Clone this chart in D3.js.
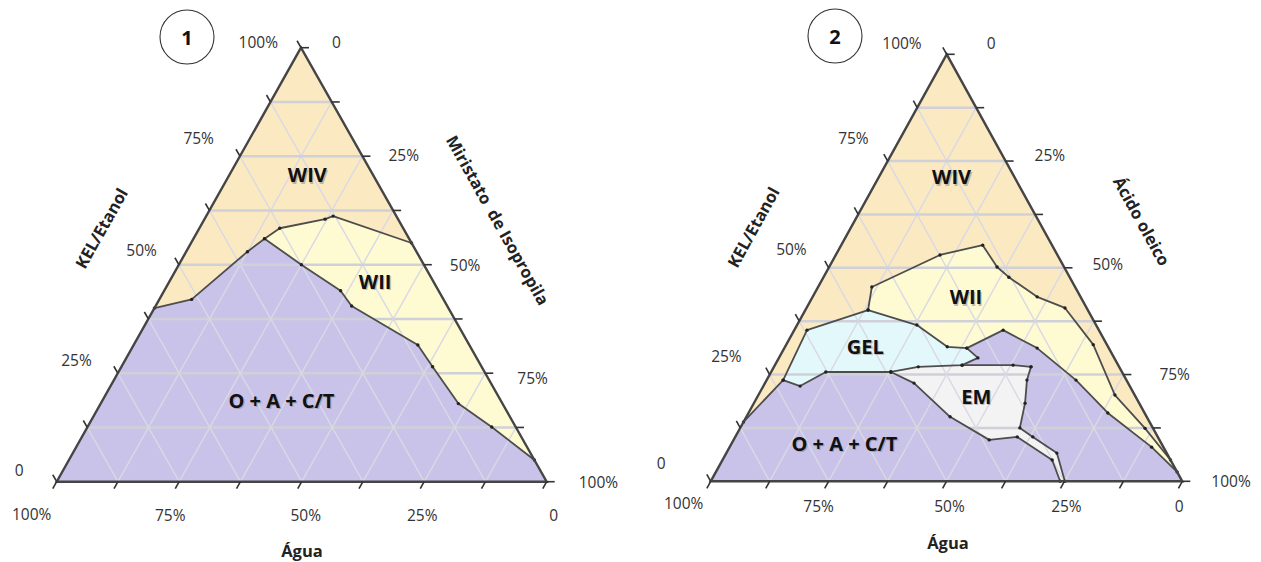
<!DOCTYPE html>
<html>
<head>
<meta charset="utf-8">
<script src="https://cdn.jsdelivr.net/npm/d3@7"></script>
<style>
  html, body { margin: 0; padding: 0; background: #fff; }
  svg { display: block; font-family: "Open Sans", "DejaVu Sans", sans-serif; }
  .tick-label { font-size: 15.5px; fill: #333; }
  .axis-title { font-size: 16.5px; font-weight: bold; fill: #222; white-space: pre; }
  .region-label { font-size: 20px; font-weight: bold; fill: #111; }
  .region-shadow { font-size: 20px; font-weight: bold; fill: #777; opacity: 0.45; }
  .badge { font-size: 20px; font-weight: bold; fill: #111; }
</style>
</head>
<body>
<svg id="chart" width="1261" height="562"></svg>
<script>
// Composition grid and axis ticks (percent)
const gridSteps = [12.5, 25, 37.5, 50, 62.5, 75, 87.5];
const tickValues = [0, 12.5, 25, 37.5, 50, 62.5, 75, 87.5, 100];
const labelValues = [0, 25, 50, 75, 100];
const tickText = ["0", "25%", "50%", "75%", "100%"];

// Axis titles: [left (KEL/Etanol), right (oil), bottom (water)]
const axisNames1 = ["KEL/Etanol", "Miristato  de Isopropila", "Água"];
const axisNames2 = ["KEL/Etanol", "Ácido oleico", "Água"];

// Phase boundaries, points as [KEL/Etanol %, oil %]; water = 100 - both
// Diagram 1 (isopropyl myristate)
const lowerCurve1 = [[40, 0], [42, 6.6], [53, 12.5], [56, 14.5], [50, 25], [44, 36], [40.5, 40],
                     [31.5, 58], [26.5, 63.5], [18, 73], [12.6, 82.5], [5, 95]];
const upperCurve1 = [[56, 14.5], [58.4, 16.4], [60.5, 24.6], [61.2, 25.9], [55, 45]];
const regionNames1 = ["WIV", "WII", "O + A + C/T"];
const regionSpots1 = [[70.7, 15.9], [46.1, 42], [18.8, 36.5]];

// Diagram 2 (oleic acid)
const purpleLeftTop2 = [[13.9, 0], [23.7, 3.5], [22.3, 7.8], [25.6, 11.6], [25.6, 25.4]];
const gelOutline2 = [[23.7, 3.5], [35.4, 2.7], [40.1, 13.3], [36.6, 25.4], [31.5, 34.4], [31.2, 38.7],
                     [28.9, 42.2], [27.2, 39.7], [26.8, 30.6], [25.6, 25.4]];
const emTop2 = [[27.2, 39.7], [27.2, 50.5], [26.8, 54.5]];
const emRight2 = [[26.8, 54.5], [23.7, 55.2], [18.3, 57.5], [12.5, 59.3], [10.4, 63.1], [6.6, 70.1], [0, 75.1]];
const emLeft2 = [[25.6, 25.4], [23.0, 31.6], [15.1, 43.2], [9.7, 54.2], [10.4, 59.8], [5, 69.9], [0, 74.1]];
const purpleRight2 = [[31.2, 38.7], [35.4, 44.3], [31.2, 53.6], [23.7, 65.6], [16, 76.2], [8, 89.5], [2.2, 97.8]];
const wiiOuter2 = [[40.1, 13.3], [45.5, 11.4], [53, 22.1], [55.3, 30], [50.2, 35.6], [47.8, 39.3], [43.2, 47.6],
                   [40.6, 54.8], [32, 65.1], [20.2, 75.6], [12.4, 85.9], [5, 95]];
const regionNames2 = ["WIV", "WII", "GEL", "EM", "O + A + C/T"];
const regionSpots2 = [[71.3, 15.4], [43.2, 32.5], [31.5, 17], [19.8, 46.4], [8.9, 23.9]];

const colors = { wiv: "#fbe9c2", wii: "#fefbd3", oac: "#c9c3e9", gel: "#e3f8fb", em: "#f3f3f3" };

const svg = d3.select("#chart");

function drawDiagram(cfg) {
  const { bl, br, top } = cfg.frame;
  // scales: oil runs along the base, KEL lifts toward the apex
  const xOil = d3.scaleLinear().domain([0, 100]).range([bl[0], br[0]]);
  const xKel = d3.scaleLinear().domain([0, 100]).range([0, top[0] - bl[0]]);
  const yKel = d3.scaleLinear().domain([0, 100]).range([bl[1], top[1]]);
  const P = (k, o) => [xOil(o) + xKel(k), yKel(k)];
  const line = d3.line().x(d => P(d[0], d[1])[0]).y(d => P(d[0], d[1])[1]);
  const area = d3.line().x(d => P(d[0], d[1])[0]).y(d => P(d[0], d[1])[1]).curve(d3.curveLinearClosed);
  const g = svg.append("g");

  const triangle = [[100, 0], [0, 0], [0, 100]];
  // background phase
  g.append("path").attr("d", area(triangle)).attr("fill", colors.wiv);
  // phase regions
  cfg.regions.forEach(r => g.append("path").attr("d", area(r.pts)).attr("fill", r.fill));

  // grid
  const grid = g.append("g");
  gridSteps.forEach(v => {
    grid.append("path").attr("d", line([[v, 0], [v, 100 - v]]))
      .attr("stroke", "#cfd0d8").attr("stroke-width", 2.4).attr("fill", "none");
    grid.append("path").attr("d", line([[0, v], [100 - v, v]]))
      .attr("stroke", "#d9d9e4").attr("stroke-width", 1.4).attr("fill", "none");
    grid.append("path").attr("d", line([[0, 100 - v], [100 - v, 0]]))
      .attr("stroke", "#d9d9e4").attr("stroke-width", 1.4).attr("fill", "none");
  });

  // phase boundary lines with vertex markers
  cfg.lines.forEach(pts => {
    g.append("path").attr("d", line(pts)).attr("fill", "none")
      .attr("stroke", "#4d4d4d").attr("stroke-width", 1.8).attr("stroke-linejoin", "round");
    g.selectAll(null).data(pts).join("circle")
      .attr("cx", d => P(d[0], d[1])[0]).attr("cy", d => P(d[0], d[1])[1])
      .attr("r", 1.7).attr("fill", "#222");
  });

  // triangle outline
  g.append("path").attr("d", area(triangle)).attr("fill", "none")
    .attr("stroke", "#454545").attr("stroke-width", 2.4).attr("stroke-linejoin", "miter");

  // ticks
  const len = 8;
  const unit = (a, b) => { const dx = b[0] - a[0], dy = b[1] - a[1], n = Math.hypot(dx, dy); return [dx / n, dy / n]; };
  const dirLeft = unit(br, top);       // up-left, along the right side
  const dirBottom = unit(top, bl);     // down-left, along the left side
  const dirRight = [1, 0];
  const ticks = g.append("g").attr("stroke", "#333").attr("stroke-width", 1.6);
  tickValues.forEach(v => {
    const pl = P(v, 0), pr = P(100 - v, v), pb = P(0, 100 - v);
    ticks.append("line").attr("x1", pl[0]).attr("y1", pl[1])
      .attr("x2", pl[0] + dirLeft[0] * len).attr("y2", pl[1] + dirLeft[1] * len);
    ticks.append("line").attr("x1", pr[0]).attr("y1", pr[1])
      .attr("x2", pr[0] + dirRight[0] * len).attr("y2", pr[1] + dirRight[1] * len);
    ticks.append("line").attr("x1", pb[0]).attr("y1", pb[1])
      .attr("x2", pb[0] + dirBottom[0] * len).attr("y2", pb[1] + dirBottom[1] * len);
  });

  // tick labels (per-label nudges, indexed like labelValues)
  const L = cfg.labelNudges;
  labelValues.forEach((v, i) => {
    const pl = P(v, 0), pr = P(100 - v, v), pb = P(0, 100 - v);
    g.append("text").attr("class", "tick-label").attr("text-anchor", "end").attr("dominant-baseline", "central")
      .attr("x", pl[0] + L.left[i][0]).attr("y", pl[1] + L.left[i][1]).text(tickText[i]);
    g.append("text").attr("class", "tick-label").attr("text-anchor", "start").attr("dominant-baseline", "central")
      .attr("x", pr[0] + L.right[i][0]).attr("y", pr[1] + L.right[i][1]).text(tickText[i]);
    g.append("text").attr("class", "tick-label").attr("text-anchor", "middle").attr("dominant-baseline", "central")
      .attr("x", pb[0] + L.bottom[i][0]).attr("y", pb[1] + L.bottom[i][1]).text(tickText[i]);
  });

  // axis titles
  const angle = Math.atan2(bl[1] - top[1], top[0] - bl[0]) * 180 / Math.PI;
  const T = cfg.titles;
  g.append("text").attr("class", "axis-title").attr("text-anchor", "middle").attr("dominant-baseline", "central")
    .attr("transform", `translate(${T.left[0]},${T.left[1]}) rotate(${-angle})`).text(cfg.names[0]);
  g.append("text").attr("class", "axis-title").attr("text-anchor", "middle").attr("dominant-baseline", "central")
    .attr("transform", `translate(${T.right[0]},${T.right[1]}) rotate(${angle})`).text(cfg.names[1]);
  g.append("text").attr("class", "axis-title").attr("text-anchor", "middle").attr("dominant-baseline", "central")
    .attr("x", T.bottom[0]).attr("y", T.bottom[1]).text(cfg.names[2]);

  // region labels with a soft drop shadow
  cfg.regionNames.forEach((name, i) => {
    const p = P(cfg.regionSpots[i][0], cfg.regionSpots[i][1]);
    g.append("text").attr("class", "region-shadow").attr("text-anchor", "middle").attr("dominant-baseline", "central")
      .attr("x", p[0] + 1.2).attr("y", p[1] + 1.2).text(name);
    g.append("text").attr("class", "region-label").attr("text-anchor", "middle").attr("dominant-baseline", "central")
      .attr("x", p[0]).attr("y", p[1]).text(name);
  });

  // numbered badge
  g.append("circle").attr("cx", cfg.badge[0]).attr("cy", cfg.badge[1]).attr("r", 27)
    .attr("fill", "#fff").attr("stroke", "#333").attr("stroke-width", 1.1);
  g.append("text").attr("class", "badge").attr("text-anchor", "middle").attr("dominant-baseline", "central")
    .attr("x", cfg.badge[0]).attr("y", cfg.badge[1]).text(cfg.number);
}

// Diagram 1 regions
const peak1 = lowerCurve1.findIndex(d => d[0] === upperCurve1[0][0] && d[1] === upperCurve1[0][1]);
drawDiagram({
  frame: { bl: [56.7, 481.7], br: [546.7, 481.7], top: [301, 47.7] },
  regions: [
    { pts: upperCurve1.concat(lowerCurve1.slice(peak1).reverse()), fill: colors.wii },
    { pts: lowerCurve1.concat([[0, 100], [0, 0]]), fill: colors.oac }
  ],
  lines: [lowerCurve1, upperCurve1],
  labelNudges: {
    left:   [[-33, -12], [-26, -13], [-22, -15], [-26, -18], [-23, -6]],
    right:  [[31, -6], [26, -1], [26, 0], [32, 5], [32, 0]],
    bottom: [[7, 33], [-2, 33], [4, 33], [-9, 33], [-25, 32]]
  },
  titles: { left: [101, 228], right: [498, 220], bottom: [302, 550] },
  names: axisNames1,
  regionNames: regionNames1,
  regionSpots: regionSpots1,
  badge: [187, 37],
  number: "1"
});

// Diagram 2 regions
drawDiagram({
  frame: { bl: [710.7, 481.3], br: [1182.3, 481.3], top: [946.7, 54.3] },
  regions: [
    { pts: wiiOuter2.concat(purpleRight2.slice().reverse(), [gelOutline2[4], gelOutline2[3]]), fill: colors.wii },
    { pts: purpleLeftTop2.concat(gelOutline2.slice(5, 9).reverse(), purpleRight2.slice(1), [[0, 100], [0, 0]]), fill: colors.oac },
    { pts: gelOutline2.concat(purpleLeftTop2.slice(2, 4).reverse()), fill: colors.gel },
    { pts: [gelOutline2[9], gelOutline2[8]].concat(emTop2, emRight2.slice(1), emLeft2.slice().reverse()), fill: colors.em }
  ],
  lines: [purpleLeftTop2, gelOutline2, emTop2, emRight2, emLeft2, purpleRight2, wiiOuter2],
  labelNudges: {
    left:   [[-45, -18], [-28, -19], [-22, -19], [-19, -23], [-25, -11]],
    right:  [[40, -11], [29, -6], [28, -4], [36, -1], [29, 0]],
    bottom: [[-3, 25], [2, 25], [3, 25], [-10, 25], [-27, 22]]
  },
  titles: { left: [753, 227], right: [1142, 221], bottom: [948, 542] },
  names: axisNames2,
  regionNames: regionNames2,
  regionSpots: regionSpots2,
  badge: [835, 36],
  number: "2"
});
</script>
</body>
</html>
